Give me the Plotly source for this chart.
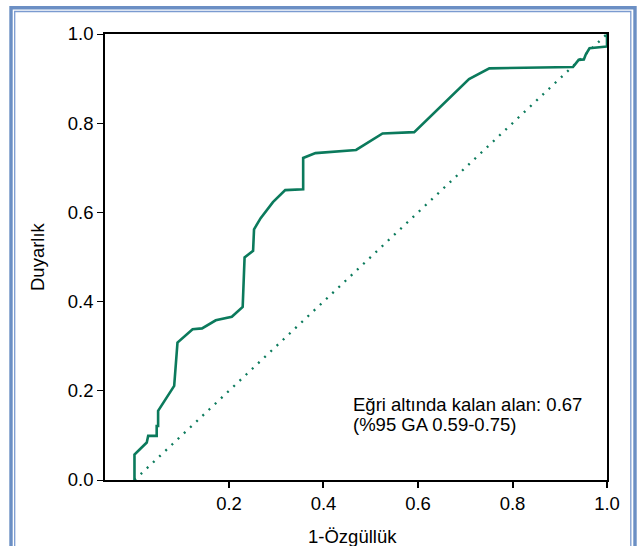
import plotly.graph_objects as go

# ROC curve data (1-specificity, sensitivity)
fpr = [0.0, 0.0, 0.026, 0.029, 0.047, 0.047, 0.050, 0.050, 0.084, 0.091, 0.123, 0.143,
       0.172, 0.206, 0.229, 0.233, 0.251, 0.253, 0.267, 0.293, 0.319, 0.357, 0.357,
       0.383, 0.469, 0.525, 0.592, 0.708, 0.751, 0.928, 0.940, 0.951, 0.955, 0.963,
       1.0, 1.0]
tpr = [0.0, 0.057, 0.084, 0.099, 0.099, 0.121, 0.121, 0.155, 0.211, 0.308, 0.338, 0.340,
       0.358, 0.366, 0.388, 0.499, 0.514, 0.562, 0.587, 0.623, 0.650, 0.652, 0.722,
       0.733, 0.740, 0.777, 0.780, 0.899, 0.923, 0.926, 0.942, 0.943, 0.954, 0.968,
       0.972, 1.0]
ref_x = [0.0, 1.0]
ref_y = [0.0, 1.0]

x_ticks = [0.2, 0.4, 0.6, 0.8, 1.0]
x_labels = ["0.2", "0.4", "0.6", "0.8", "1.0"]
y_ticks = [0.0, 0.2, 0.4, 0.6, 0.8, 1.0]
y_labels = ["0.0", "0.2", "0.4", "0.6", "0.8", "1.0"]

x_title = "1-Özgüllük"
y_title = "Duyarlık"
auc_line1 = "Eğri altında kalan alan: 0.67"
auc_line2 = "(%95 GA 0.59-0.75)"

GREEN = "#0b7a5c"
FONT = "Liberation Sans, Arial, sans-serif"
FS = 18.5

fig = go.Figure()
fig.add_trace(go.Scatter(x=ref_x, y=ref_y, mode="lines",
                         line=dict(color=GREEN, width=2.3, dash="2px,6.5px"),
                         hoverinfo="skip", showlegend=False))
fig.add_trace(go.Scatter(x=fpr, y=tpr, mode="lines",
                         line=dict(color=GREEN, width=2.6),
                         showlegend=False))

W, H = 639, 546
L, R, T, B = 105, 32, 34, 66
pw, ph = W - L - R, H - T - B

def px(x):
    return (x - L) / pw

def py(y):
    return (H - B - y) / ph

shapes = [
    dict(type="rect", xref="paper", yref="paper",
         x0=px(11), x1=px(635), y0=py(570), y1=py(7.7),
         line=dict(color="#6b8fc4", width=3.4), fillcolor="rgba(0,0,0,0)", layer="above"),
    dict(type="rect", xref="paper", yref="paper",
         x0=px(14.7), x1=px(630.8), y0=py(570), y1=py(11.5),
         line=dict(color="#7b9bd0", width=1.3), fillcolor="rgba(0,0,0,0)", layer="above"),
]

fig.update_layout(
    width=W, height=H,
    margin=dict(l=L, r=R, t=T, b=B, pad=0, autoexpand=False),
    paper_bgcolor="white", plot_bgcolor="white",
    font=dict(family=FONT, size=FS, color="black"),
    shapes=shapes,
    xaxis=dict(range=[-0.0624, 1.0], tickvals=x_ticks, ticktext=x_labels,
               showgrid=False, zeroline=False, showline=True, mirror=True,
               linecolor="black", linewidth=1.5, ticks="outside", ticklen=6,
               tickwidth=1.5, tickcolor="black", automargin=False),
    yaxis=dict(range=[0, 1.0], tickvals=y_ticks, ticktext=y_labels,
               showgrid=False, zeroline=False, showline=True, mirror=True,
               linecolor="black", linewidth=1.5, ticks="outside", ticklen=6,
               tickwidth=1.2, tickcolor="black", automargin=False),
    annotations=[
        dict(text=auc_line1, xref="paper", yref="paper", x=px(351), y=py(404),
             xanchor="left", yanchor="middle", showarrow=False, font=dict(size=FS)),
        dict(text=auc_line2, xref="paper", yref="paper", x=px(351), y=py(424),
             xanchor="left", yanchor="middle", showarrow=False, font=dict(size=FS)),
        dict(text=x_title, xref="paper", yref="paper", x=px(352), y=py(536),
             xanchor="center", yanchor="middle", showarrow=False, font=dict(size=FS)),
        dict(text=y_title, xref="paper", yref="paper", x=px(37), y=py(257),
             xanchor="center", yanchor="middle", showarrow=False, textangle=-90,
             font=dict(size=FS)),
    ],
)

fig.write_html("out.html", config={"displayModeBar": False},
               post_script="document.body.style.margin='0';")
